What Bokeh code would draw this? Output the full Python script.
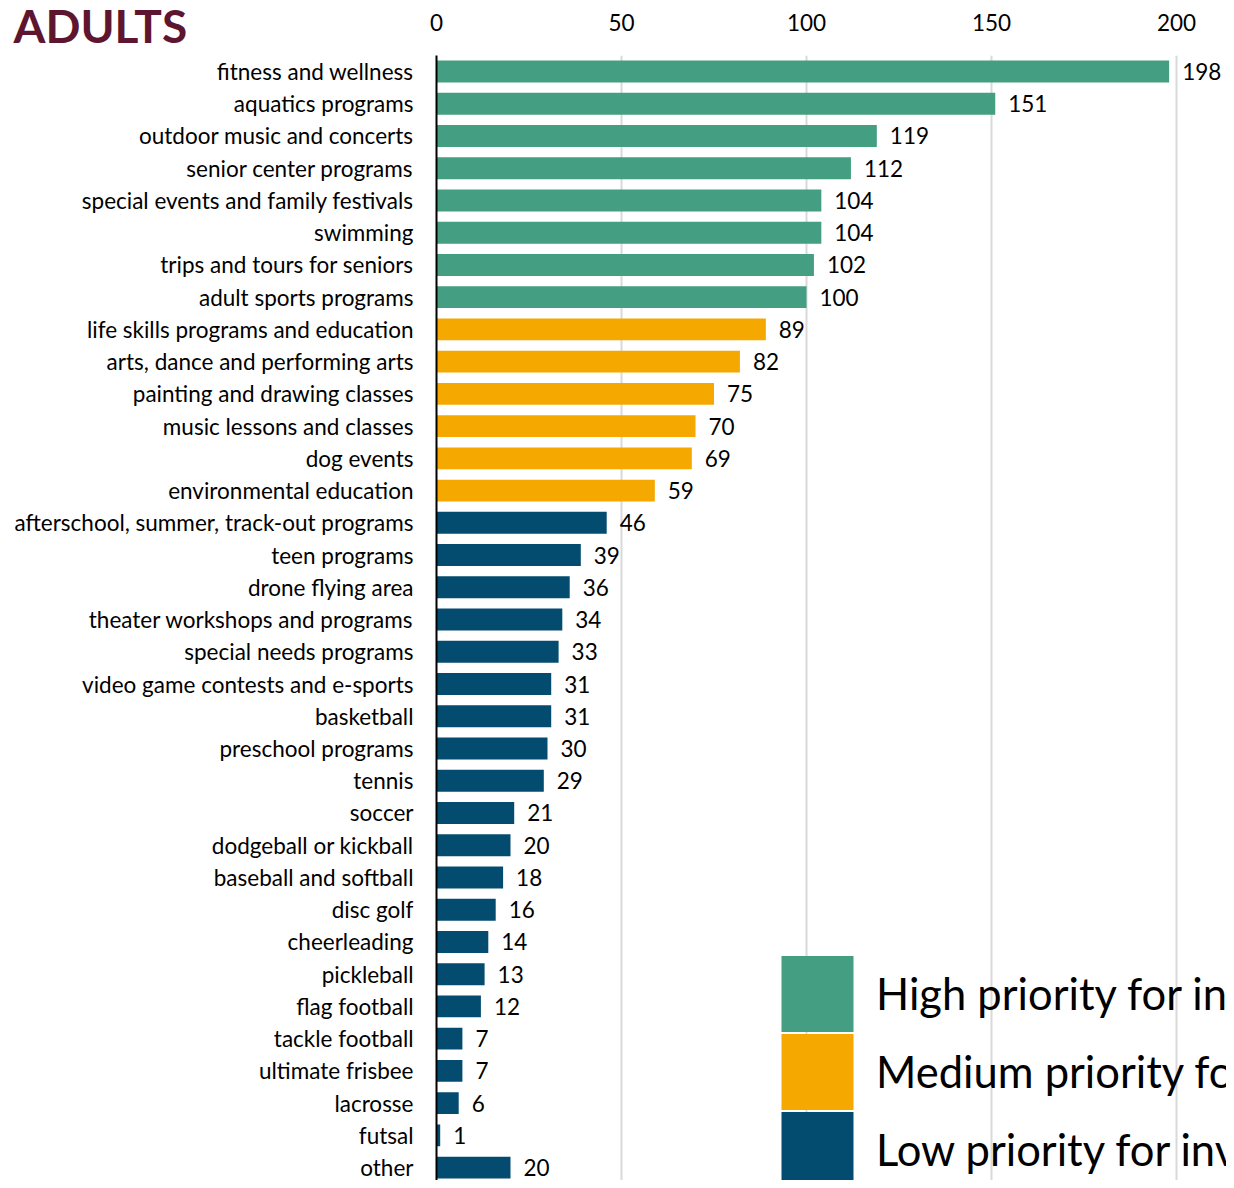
from bokeh.plotting import figure
from bokeh.models import (Range1d, FixedTicker, Legend, LegendItem, ColumnDataSource, Title)
from bokeh.core.properties import value
from bokeh.embed import file_html
from bokeh.resources import INLINE

categories = [
    "fitness and wellness", "aquatics programs", "outdoor music and concerts",
    "senior center programs", "special events and family festivals", "swimming",
    "trips and tours for seniors", "adult sports programs",
    "life skills programs and education", "arts, dance and performing arts",
    "painting and drawing classes", "music lessons and classes", "dog events",
    "environmental education",
    "afterschool, summer, track-out programs", "teen programs", "drone flying area",
    "theater workshops and programs", "special needs programs",
    "video game contests and e-sports", "basketball", "preschool programs", "tennis",
    "soccer", "dodgeball or kickball", "baseball and softball", "disc golf",
    "cheerleading", "pickleball", "flag football", "tackle football",
    "ultimate frisbee", "lacrosse", "futsal", "other",
]
values = [198, 151, 119, 112, 104, 104, 102, 100,
          89, 82, 75, 70, 69, 59,
          46, 39, 36, 34, 33, 31, 31, 30, 29, 21, 20, 18, 16, 14, 13, 12, 7, 7, 6, 1, 20]
priority_levels = ["High priority for investment", "Medium priority for investment",
                   "Low priority for investment"]
priority = [0] * 8 + [1] * 6 + [2] * 21
colors = ["#449E81", "#F5A800", "#044C6F"]
x_ticks = [0, 50, 100, 150, 200]

FONT = "Lato"
FS = "22.5px"
positions = list(range(len(categories)))

p = figure(width=1226, height=1180, output_backend="svg", toolbar_location=None,
           x_range=Range1d(0, 213.5), y_range=Range1d(34.40, -0.496),
           x_axis_location="above",
           min_border_left=436, min_border_right=0, min_border_top=55, min_border_bottom=0)
p.outline_line_color = None
p.background_fill_color = "white"

renderers = []
for g in range(3):
    idx = [i for i in positions if priority[i] == g]
    src = ColumnDataSource(dict(y=idx, v=[values[i] for i in idx]))
    r = p.hbar(y="y", right="v", left=0, height=0.68, source=src, line_color=None,
               fill_color=colors[g])
    renderers.append(r)

lsrc = ColumnDataSource(dict(y=positions, v=values, lbl=[str(v) for v in values]))
p.text(x="v", y="y", text="lbl", source=lsrc, x_offset=13, text_align="left",
       text_baseline="middle", text_font=value(FONT), text_font_size=FS,
       text_color="black")

# axes
xa = p.xaxis[0]
xa.ticker = FixedTicker(ticks=x_ticks)
xa.axis_line_color = None
xa.major_tick_line_color = None
xa.minor_tick_line_color = None
xa.major_label_text_font = FONT
xa.major_label_text_font_size = FS
xa.major_label_text_color = "black"
xa.major_label_standoff = 19

ya = p.yaxis[0]
ya.ticker = FixedTicker(ticks=positions)
ya.major_label_overrides = {i: c for i, c in enumerate(categories)}
ya.axis_line_color = "black"
ya.axis_line_width = 2
ya.major_tick_line_color = None
ya.minor_tick_line_color = None
ya.major_label_text_font = FONT
ya.major_label_text_font_size = FS
ya.major_label_text_color = "black"
ya.major_label_standoff = 17

p.ygrid.grid_line_color = None
p.xgrid.ticker = FixedTicker(ticks=x_ticks)
p.xgrid.grid_line_color = "#D9D9D9"
p.xgrid.grid_line_width = 2

p.title = Title(text="ADULTS", align="left", offset=-423, standoff=-85,
                text_font=FONT, text_font_style="bold", text_font_size="46px",
                text_color="#5E1630", vertical_align="bottom")

# legend: one box per priority level, stacked down the lower right
leg_y = [139.5, 61.5, -16.5]
for g in range(3):
    leg = Legend(items=[LegendItem(label=priority_levels[g], renderers=[renderers[g]])],
                 location=(336, leg_y[g]), padding=0, margin=0, spacing=0,
                 glyph_width=90, glyph_height=95, label_height=95, label_standoff=14,
                 label_text_font=FONT, label_text_font_size="43.5px",
                 label_text_color="black", border_line_color=None,
                 background_fill_alpha=0)
    p.add_layout(leg)

open("out.html", "w").write(file_html(p, INLINE))
